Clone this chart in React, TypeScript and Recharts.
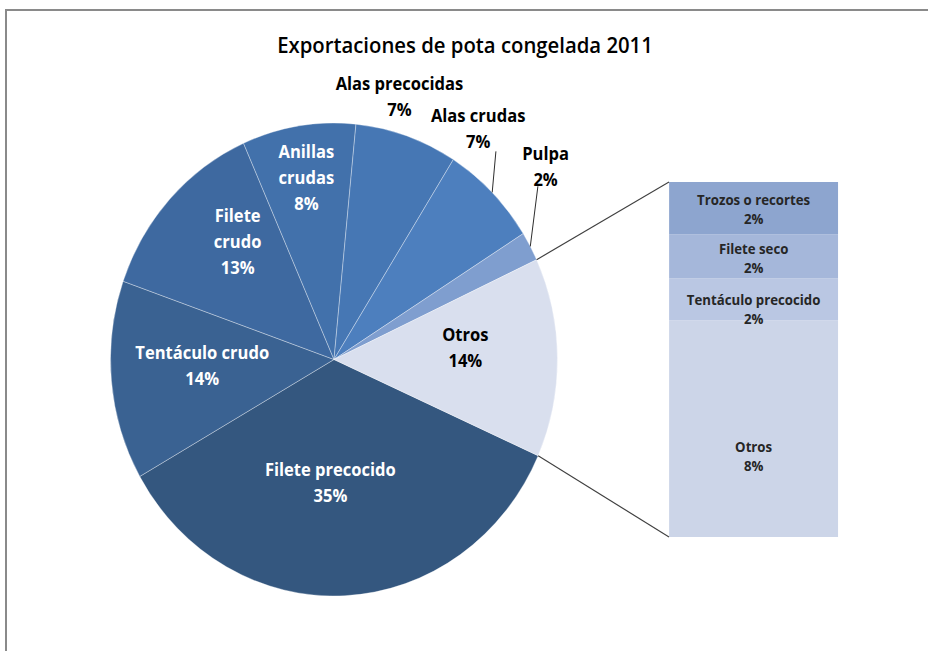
import React from 'react';
import { PieChart, Pie, Cell, BarChart, Bar, XAxis, YAxis, LabelList } from 'recharts';

// ---------- data ----------
const pieCategories = [
  'Filete precocido',
  'Tentáculo crudo',
  'Filete crudo',
  'Anillas crudas',
  'Alas precocidas',
  'Alas crudas',
  'Pulpa',
  'Otros',
];
const pieValues = [35.1, 13.6, 13.0, 8.2, 7.4, 7.1, 2.0, 13.6];

const otrosCategories = ['Trozos o recortes', 'Filete seco', 'Tentáculo precocido', 'Otros'];
const otrosValues = [2.0, 1.7, 1.6, 8.3];

const title = 'Exportaciones de pota congelada 2011';

// ---------- styles ----------
const pieColors = ['#34577F', '#3A6292', '#3E69A0', '#4271AB', '#4677B4', '#4D7FBE', '#7F9ECF', '#D9DFEE'];
const pieLabelColors = ['#FFFFFF', '#FFFFFF', '#FFFFFF', '#FFFFFF', '#000000', '#000000', '#000000', '#000000'];
const pieLabelWrap = [false, false, true, true, false, false, false, false];
const pieLabelRadius = [0.52, 0.59, 0.66, 0.78, 1.15, 1.17, 1.25, 0.59];
const pieLabelShift = [-4.6, -2.6, -6.5, 0, 4.2, 11.6, 12.2, 4.5];
const pieLeader: ({ r: number; shift: number } | null)[] = [null, null, null, null, null, { r: 1.14, shift: 5.6 }, { r: 1.17, shift: 10.2 }, null];

const otrosColors = ['#8DA5CF', '#A5B7DA', '#BAC7E3', '#CCD5E8'];
const otrosLabelShift = [1, 1.5, 9.5, 27.5];

const FONT = "'Open Sans', 'DejaVu Sans', sans-serif";

// ---------- layout ----------
const SX = 0.945; // horizontal compression of the reference picture
const CW = 928 / SX;
const CH = 651;
const CX = 334 / SX;
const CY = 359.5;
const R = 236.5;
const START = -24;
const BAR_X = 669 / SX;
const BAR_W = 169 / SX;
const BAR_Y = 182;
const BAR_H = 355;

const pieData = pieCategories.map((name, i) => ({ name, value: pieValues[i] }));
const pieTotal = pieValues.reduce((a, b) => a + b, 0);
const otrosTotal = otrosValues.reduce((a, b) => a + b, 0);
const barRow: Record<string, number | string> = { name: 'Otros' };
otrosValues.forEach((v, i) => (barRow['s' + i] = v));
const barData = [barRow];

const RAD = Math.PI / 180;

const renderPieLabel = (props: any) => {
  const { cx, cy, midAngle, outerRadius, percent, index } = props;
  const a = (midAngle + pieLabelShift[index]) * RAD;
  const r = outerRadius * pieLabelRadius[index];
  const x = cx + r * Math.cos(a);
  const y = cy - r * Math.sin(a);
  const name = pieCategories[index];
  const lines = pieLabelWrap[index] ? name.split(' ') : [name];
  lines.push(`${Math.round(percent * 100)}%`);
  const lh = 26;
  const y0 = y - ((lines.length - 1) * lh) / 2;
  const leader = pieLeader[index];
  let leaderEl = null;
  if (leader) {
    const m = midAngle * RAD;
    const x1 = cx + outerRadius * 1.0 * Math.cos(m);
    const y1 = cy - outerRadius * 1.0 * Math.sin(m);
    const b = (midAngle + leader.shift) * RAD;
    const x2 = cx + outerRadius * leader.r * Math.cos(b);
    const y2 = cy - outerRadius * leader.r * Math.sin(b);
    leaderEl = <line x1={x1} y1={y1} x2={x2} y2={y2} stroke="#262626" strokeWidth={1} />;
  }
  return (
    <g>
      {leaderEl}
      {lines.map((l, i) => (
        <text
          key={i}
          x={x}
          y={y0 + i * lh}
          textAnchor="middle"
          dominantBaseline="central"
          fill={pieLabelColors[index]}
          fontFamily={FONT}
          fontWeight={700}
          fontSize={17.5}
        >
          {l}
        </text>
      ))}
    </g>
  );
};

const makeBarLabel = (i: number) => (props: any) => {
  const { x, y, width, height } = props;
  const cx = Number(x) + Number(width) / 2;
  const cy = Number(y) + Number(height) / 2 + otrosLabelShift[i];
  const lh = 19;
  const pct = `${Math.round((otrosValues[i] / pieTotal) * 100)}%`;
  return (
    <g>
      <text x={cx} y={cy - lh / 2} textAnchor="middle" dominantBaseline="central" fill="#262626" fontFamily={FONT} fontWeight={700} fontSize={14}>
        {otrosCategories[i]}
      </text>
      <text x={cx} y={cy + lh / 2} textAnchor="middle" dominantBaseline="central" fill="#262626" fontFamily={FONT} fontWeight={700} fontSize={14}>
        {pct}
      </text>
    </g>
  );
};

export default function App() {
  // connector lines from the "Otros" slice edges to the bar
  const beforeOtros = pieValues.slice(0, pieValues.length - 1).reduce((a, b) => a + b, 0);
  const otrosStart = (START - (360 * beforeOtros) / pieTotal) * RAD;
  const otrosEnd = START * RAD;
  const top = { x: CX + R * Math.cos(otrosStart), y: CY - R * Math.sin(otrosStart) };
  const bot = { x: CX + R * Math.cos(otrosEnd), y: CY - R * Math.sin(otrosEnd) };

  return (
    <div style={{ position: 'absolute', left: 0, top: 0, width: 928, height: 651, overflow: 'hidden', background: '#ffffff' }}>
      <div
        style={{
          position: 'absolute',
          left: 5,
          top: 9,
          width: 940,
          height: 660,
          borderLeft: '2px solid #8a8a8a',
          borderTop: '2px solid #8a8a8a',
        }}
      />
      <div style={{ position: 'absolute', left: 0, top: 0, width: CW, height: CH, transform: `scaleX(${SX})`, transformOrigin: '0 0' }}>
        <div style={{ position: 'absolute', left: 0, top: 0 }}>
          <PieChart width={CW} height={CH} margin={{ top: 0, right: 0, bottom: 0, left: 0 }}>
            <Pie
              data={pieData}
              dataKey="value"
              nameKey="name"
              cx={CX}
              cy={CY}
              outerRadius={R}
              startAngle={START}
              endAngle={START - 360}
              isAnimationActive={false}
              label={renderPieLabel}
              labelLine={false}
              stroke="rgba(255,255,255,0.35)"
              strokeWidth={1}
            >
              {pieData.map((d, i) => (
                <Cell key={d.name} fill={pieColors[i]} />
              ))}
            </Pie>
          </PieChart>
        </div>
        <div style={{ position: 'absolute', left: BAR_X, top: BAR_Y }}>
          <BarChart width={BAR_W} height={BAR_H} data={barData} margin={{ top: 0, right: 0, bottom: 0, left: 0 }} barCategoryGap={0} barGap={0}>
            <XAxis dataKey="name" hide />
            <YAxis hide type="number" domain={[0, otrosTotal]} allowDataOverflow />
            {[3, 2, 1, 0].map((i) => (
              <Bar key={i} dataKey={'s' + i} stackId="a" fill={otrosColors[i]} isAnimationActive={false}>
                <LabelList dataKey={'s' + i} content={makeBarLabel(i)} />
              </Bar>
            ))}
          </BarChart>
        </div>
        <svg width={CW} height={CH} style={{ position: 'absolute', left: 0, top: 0, pointerEvents: 'none' }}>
          <text x={465 / SX} y={45} textAnchor="middle" dominantBaseline="central" fill="#000000" fontFamily={FONT} fontWeight={600} fontSize={21.5}>
            {title}
          </text>
          <line x1={top.x} y1={top.y} x2={BAR_X} y2={BAR_Y} stroke="#404040" strokeWidth={1.2} />
          <line x1={bot.x} y1={bot.y} x2={BAR_X} y2={BAR_Y + BAR_H} stroke="#404040" strokeWidth={1.2} />
        </svg>
      </div>
    </div>
  );
}
